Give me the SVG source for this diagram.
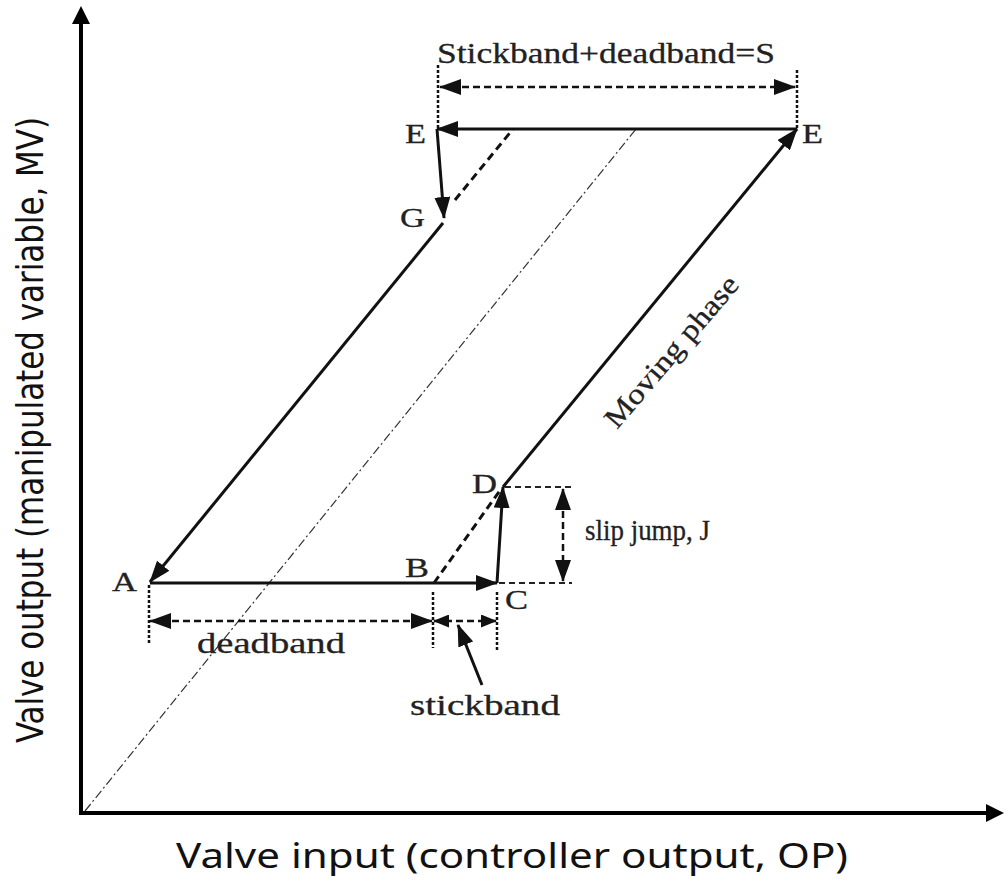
<svg xmlns="http://www.w3.org/2000/svg" width="1006" height="880" viewBox="0 0 1006 880">
<defs>
<marker id="ah" markerUnits="userSpaceOnUse" markerWidth="22" markerHeight="16" viewBox="0 0 22 16" refX="21" refY="8" orient="auto-start-reverse"><path d="M0,0 L22,8 L0,16 Z" fill="#111"/></marker>
<marker id="ahs" markerUnits="userSpaceOnUse" markerWidth="16" markerHeight="13" viewBox="0 0 16 13" refX="15" refY="6.5" orient="auto-start-reverse"><path d="M0,0 L16,6.5 L0,13 Z" fill="#111"/></marker>
<marker id="axh" markerUnits="userSpaceOnUse" markerWidth="18" markerHeight="18" viewBox="0 0 18 18" refX="4" refY="9" orient="auto"><path d="M0,0 L18,9 L0,18 Z" fill="#000"/></marker>
</defs>
<style>
.ax{stroke:#000;stroke-width:4;fill:none}
.ln{stroke:#111;stroke-width:3;fill:none}
.dsh{stroke:#111;stroke-width:3;fill:none;stroke-dasharray:8 5}
.dim{stroke:#111;stroke-width:2.5;fill:none;stroke-dasharray:7 4}
.dot{stroke:#111;stroke-width:2.5;fill:none;stroke-dasharray:3 2}
.thin{stroke:#222;stroke-width:2;fill:none;stroke-dasharray:6 4}
.dd{stroke:#333;stroke-width:1.2;fill:none;stroke-dasharray:9 3 2 3}
.t{font-family:"Liberation Serif","Times New Roman",serif;font-size:29px;fill:#222;stroke:#222;stroke-width:0.3}
.lab{font-family:"Liberation Serif","Times New Roman",serif;font-size:27px;fill:#222;stroke:#222;stroke-width:0.3}
.axt{font-family:"Noto Sans","Open Sans",sans-serif;font-size:34px;fill:#111}
.ayt{font-family:"DejaVu Sans Condensed","Liberation Sans Narrow","Noto Sans",sans-serif;font-size:38px;fill:#111}
</style>
<g id="axes">
<line class="ax" x1="81" y1="815" x2="81" y2="20" marker-end="url(#axh)"/>
<line class="ax" x1="79" y1="813" x2="990" y2="813" marker-end="url(#axh)"/>
<text class="axt" x="176" y="868" textLength="672" lengthAdjust="spacingAndGlyphs">Valve input (controller output, OP)</text>
<text class="ayt" transform="translate(43,743) rotate(-90)" x="0" y="0" textLength="626" lengthAdjust="spacingAndGlyphs">Valve output (manipulated variable, MV)</text>
</g>
<g id="connectors">
<line class="dd" x1="85" y1="811" x2="636" y2="129"/>
<line class="ln" x1="797" y1="129" x2="437" y2="129" marker-end="url(#ah)"/>
<line class="ln" x1="437" y1="129" x2="444" y2="218" marker-end="url(#ah)"/>
<line class="dsh" x1="455" y1="200" x2="513" y2="129"/>
<line class="ln" x1="443" y1="223" x2="150" y2="582" marker-end="url(#ah)"/>
<line class="ln" x1="150" y1="583" x2="497" y2="583" marker-end="url(#ah)"/>
<line class="dsh" x1="434" y1="583" x2="501" y2="489"/>
<line class="ln" x1="497" y1="583" x2="503" y2="487" marker-end="url(#ah)"/>
<line class="ln" x1="503" y1="487" x2="797" y2="129" marker-end="url(#ah)"/>
<line class="dot" x1="438" y1="65" x2="438" y2="129"/>
<line class="dot" x1="797" y1="70" x2="797" y2="129"/>
<line class="dim" x1="440" y1="87" x2="795" y2="87" marker-start="url(#ah)" marker-end="url(#ah)"/>
<line class="dot" x1="149" y1="585" x2="149" y2="643"/>
<line class="dot" x1="433" y1="592" x2="433" y2="648"/>
<line class="dot" x1="497" y1="592" x2="497" y2="650"/>
<line class="dim" x1="150" y1="621" x2="432" y2="621" marker-start="url(#ah)" marker-end="url(#ah)"/>
<line class="dim" x1="434" y1="621" x2="496" y2="621" marker-start="url(#ahs)" marker-end="url(#ahs)"/>
<line class="ln" x1="482" y1="685" x2="458" y2="625" marker-end="url(#ah)"/>
<line class="thin" x1="505" y1="487" x2="572" y2="487"/>
<line class="thin" x1="499" y1="583" x2="572" y2="583"/>
<line class="dim" x1="563" y1="489" x2="563" y2="581" marker-start="url(#ah)" marker-end="url(#ah)"/>
</g>
<g id="labels">
<text class="t" x="437" y="63" textLength="338" lengthAdjust="spacingAndGlyphs">Stickband+deadband=S</text>
<text class="lab" x="405" y="143" textLength="21" lengthAdjust="spacingAndGlyphs">E</text>
<text class="lab" x="802" y="143" textLength="21" lengthAdjust="spacingAndGlyphs">E</text>
<text class="lab" x="400" y="227" textLength="25" lengthAdjust="spacingAndGlyphs">G</text>
<text class="lab" x="112" y="591" textLength="25" lengthAdjust="spacingAndGlyphs">A</text>
<text class="lab" x="405" y="577" textLength="24" lengthAdjust="spacingAndGlyphs">B</text>
<text class="lab" x="505" y="609" textLength="23" lengthAdjust="spacingAndGlyphs">C</text>
<text class="lab" x="472" y="493" textLength="25" lengthAdjust="spacingAndGlyphs">D</text>
<text class="t" x="197" y="653" textLength="148" lengthAdjust="spacingAndGlyphs">deadband</text>
<text class="t" x="410" y="715" textLength="150" lengthAdjust="spacingAndGlyphs">stickband</text>
<text class="t" x="585" y="540" textLength="125" lengthAdjust="spacingAndGlyphs">slip jump, J</text>
<text class="t" transform="translate(617,430) rotate(-49.5)" x="0" y="0" textLength="190" lengthAdjust="spacingAndGlyphs">Moving phase</text>
</g>
</svg>
